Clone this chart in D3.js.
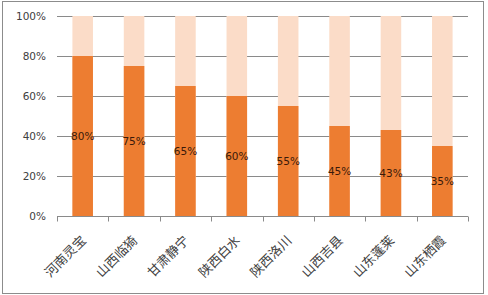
<!DOCTYPE html>
<html><head><meta charset="utf-8">
<script src="https://cdn.jsdelivr.net/npm/d3@7"></script>
<style>body{margin:0;background:#fff}svg{display:block}</style>
</head><body>
<script>
const categories = ["河南灵宝","山西临猗","甘肃静宁","陕西白水","陕西洛川","山西吉县","山东蓬莱","山东栖霞"];
const values = [80,75,65,60,55,45,43,35];
const yTicks = [0,20,40,60,80,100];

const W=488,H=295;
const svg=d3.select("body").append("svg").attr("width",W).attr("height",H);
svg.append("rect").attr("x",2.5).attr("y",1.5).attr("width",481).attr("height",292)
  .attr("fill","#fff").attr("stroke","#8c8c8c").attr("stroke-width",1);

const m={l:57,r:468,t:16,b:216};
const x=d3.scaleBand().domain(categories).range([m.l,m.r]).paddingInner(0.6).paddingOuter(0.3);
const y=d3.scaleLinear().domain([0,100]).range([m.b,m.t]);

// gridlines
svg.append("g").selectAll("line").data(yTicks.filter(d=>d>0)).join("line")
  .attr("x1",m.l).attr("x2",m.r).attr("y1",d=>y(d)+0.5).attr("y2",d=>y(d)+0.5)
  .attr("stroke","#8a8a8a").attr("stroke-width",1);

// background (100%) bars
svg.append("g").selectAll("rect").data(categories).join("rect")
  .attr("x",d=>x(d)).attr("width",x.bandwidth())
  .attr("y",y(100)).attr("height",y(0)-y(100)).attr("fill","#FBDCC8");
// value bars
svg.append("g").selectAll("rect").data(values).join("rect")
  .attr("x",(d,i)=>x(categories[i])).attr("width",x.bandwidth())
  .attr("y",d=>y(d)).attr("height",d=>y(0)-y(d)).attr("fill","#ED7D31");

// y axis labels
svg.append("g").selectAll("text").data(yTicks).join("text")
  .attr("x",m.l-11).attr("y",d=>y(d)).attr("dy","0.35em").attr("text-anchor","end")
  .attr("font-family","DejaVu Sans").attr("font-size",10.5).attr("fill","#404040")
  .text(d=>d+"%");

// x axis
const xa=svg.append("g").attr("transform",`translate(0,${m.b+0.5})`);
xa.append("line").attr("x1",m.l).attr("x2",m.r).attr("stroke","#8a8a8a");
const edges=categories.map(c=>x(c)-x.step()*x.paddingInner()/2).concat([m.r]);
edges[0]=m.l;
xa.selectAll("line.t").data(edges).join("line").attr("class","t")
  .attr("x1",d=>Math.round(d)+0.5).attr("x2",d=>Math.round(d)+0.5).attr("y1",0).attr("y2",5)
  .attr("stroke","#8a8a8a");

// category labels
svg.append("g").selectAll("text").data(categories).join("text")
  .attr("transform",d=>`translate(${x(d)+x.bandwidth()/2+1},${m.b+22}) rotate(-45)`)
  .attr("text-anchor","end").attr("dy","0.35em")
  .attr("font-family","Noto Sans CJK SC").attr("font-size",13).attr("fill","#404040")
  .text(d=>d);

// data labels
svg.append("g").selectAll("text").data(values).join("text")
  .attr("x",(d,i)=>x(categories[i])+x.bandwidth()/2)
  .attr("y",d=>(y(d)+y(0))/2).attr("dy","0.35em").attr("text-anchor","middle")
  .attr("font-family","DejaVu Sans").attr("font-size",10.5).attr("fill","#3a1a0a")
  .text(d=>d+"%");
</script>
</body></html>
